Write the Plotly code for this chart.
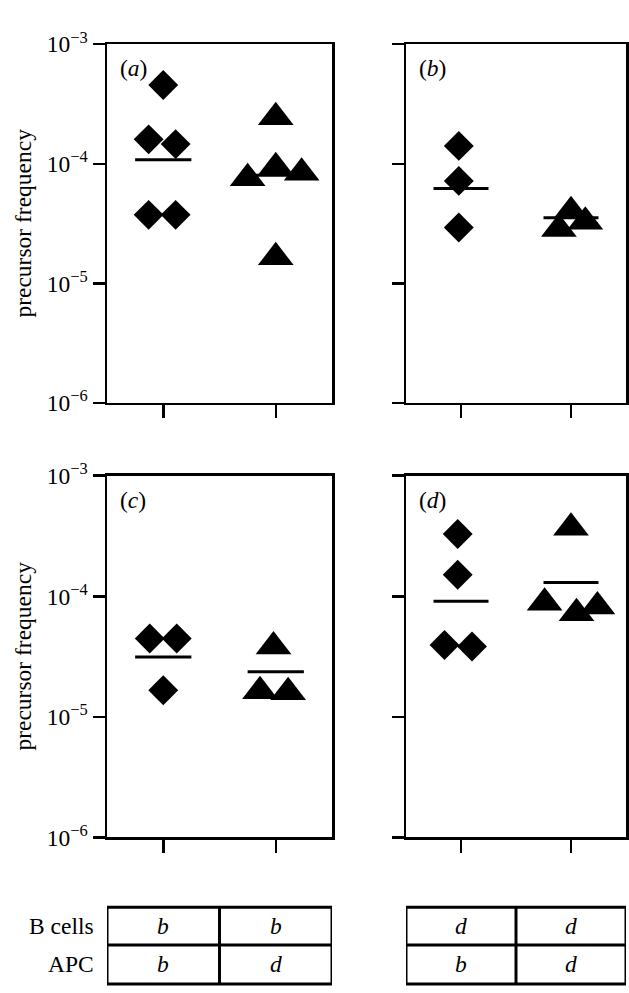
import plotly.graph_objects as go

# ---------------- data ----------------
panel_labels = ["a", "b", "c", "d"]
tick_values = [1e-6, 1e-5, 1e-4, 1e-3]
tick_labels = ["10<sup>−6</sup>", "10<sup>−5</sup>", "10<sup>−4</sup>", "10<sup>−3</sup>"]
y_title = "precursor frequency"

# diamond group (first column) and triangle group (second column) per panel
a_diamonds = [4.56e-4, 1.60e-4, 1.46e-4, 3.74e-5, 3.74e-5]
a_triangles = [2.45e-4, 9.37e-5, 7.57e-5, 8.41e-5, 1.65e-5]
a_means = [1.08e-4, 8.0e-5]

b_diamonds = [1.41e-4, 7.19e-5, 2.93e-5]
b_triangles = [2.85e-5, 4.01e-5, 3.28e-5]
b_means = [6.2e-5, 3.53e-5]

c_diamonds = [4.47e-5, 4.47e-5, 1.66e-5]
c_triangles = [3.84e-5, 1.63e-5, 1.60e-5]
c_means = [3.14e-5, 2.37e-5]

d_diamonds = [3.29e-4, 1.51e-4, 3.94e-5, 3.83e-5]
d_triangles = [3.70e-4, 8.83e-5, 7.24e-5, 8.23e-5]
d_means = [9.1e-5, 1.30e-4]

# horizontal jitter of the points around their column (category units)
a_diamond_jitter = [0.0, -0.13, 0.11, -0.13, 0.11]
a_triangle_jitter = [0.0, 0.0, -0.25, 0.23, 0.0]
b_diamond_jitter = [-0.02, -0.02, -0.02]
b_triangle_jitter = [-0.11, 0.0, 0.13]
c_diamond_jitter = [-0.12, 0.12, 0.0]
c_triangle_jitter = [-0.02, -0.14, 0.11]
d_diamond_jitter = [-0.03, -0.03, -0.15, 0.10]
d_triangle_jitter = [0.0, -0.24, 0.05, 0.24]

# table under the panels
table_row_labels = ["B cells", "APC"]
b_cells_left = ["b", "b"]
apc_left = ["b", "d"]
b_cells_right = ["d", "d"]
apc_right = ["b", "d"]

# ---------------- layout helpers ----------------
W, H = 629, 993
FONT = "Liberation Serif"
FS = 23.5


def px_x(x):
    return x / W


def px_y(y):
    return 1 - y / H


col_left = [107, 332]
col_right = [406, 626]
row_top = [28, 398]
row_bottom = [473, 846]

panel_boxes = [
    (col_left, row_top),
    (col_right, row_top),
    (col_left, row_bottom),
    (col_right, row_bottom),
]

panels = [
    (a_diamonds, a_diamond_jitter, a_triangles, a_triangle_jitter, a_means),
    (b_diamonds, b_diamond_jitter, b_triangles, b_triangle_jitter, b_means),
    (c_diamonds, c_diamond_jitter, c_triangles, c_triangle_jitter, c_means),
    (d_diamonds, d_diamond_jitter, d_triangles, d_triangle_jitter, d_means),
]

fig = go.Figure()
layout = dict(
    width=W,
    height=H,
    margin=dict(l=0, r=0, t=0, b=0),
    paper_bgcolor="white",
    plot_bgcolor="white",
    showlegend=False,
    hovermode=False,
    font=dict(family=FONT, size=FS, color="black"),
)

annotations = []
shapes = []

for i, ((dv, dj, tv, tj, means), (cx, cy)) in enumerate(zip(panels, panel_boxes)):
    n = i + 1
    xa = "x" if n == 1 else f"x{n}"
    ya = "y" if n == 1 else f"y{n}"
    xkey = "xaxis" if n == 1 else f"xaxis{n}"
    ykey = "yaxis" if n == 1 else f"yaxis{n}"

    fig.add_trace(go.Scatter(
        x=[1 + j for j in dj], y=dv, mode="markers", xaxis=xa, yaxis=ya,
        marker=dict(symbol="diamond", size=23, color="black", line=dict(width=0)),
        cliponaxis=False,
    ))
    fig.add_trace(go.Scatter(
        x=[2 + j for j in tj], y=tv, mode="markers", xaxis=xa, yaxis=ya,
        marker=dict(symbol="triangle-up", size=31, color="black", line=dict(width=0)),
        cliponaxis=False,
    ))
    for c, m in zip([1, 2], means):
        fig.add_trace(go.Scatter(
            x=[c - 0.25, c + 0.25], y=[m, m], mode="lines", xaxis=xa, yaxis=ya,
            line=dict(color="black", width=3),
        ))

    layout[xkey] = dict(
        domain=[px_x(cx[0]), px_x(cx[1])],
        range=[0.5, 2.5],
        anchor=ya,
        showgrid=False, zeroline=False,
        showline=True, linecolor="black", linewidth=2.5, mirror=True,
        ticks="outside", ticklen=13, tickwidth=2.5, tickcolor="black",
        tickvals=[1, 2], showticklabels=False,
    )
    layout[ykey] = dict(
        domain=[px_y(cy[1]), px_y(cy[0])],
        type="log",
        range=[-6, -3],
        anchor=xa,
        showgrid=False, zeroline=False,
        showline=True, linecolor="black", linewidth=2.5, mirror=True,
        ticks="outside", ticklen=12, tickwidth=2.5, tickcolor="black",
        tickvals=tick_values, ticktext=tick_labels,
        showticklabels=(n in (1, 3)),
        tickfont=dict(family=FONT, size=FS, color="black"),
    )

    # panel letter
    annotations.append(dict(
        text=f"(<i>{panel_labels[i]}</i>)", xref="paper", yref="paper",
        x=px_x(cx[0] + 11), y=px_y(cy[0] + 25), xanchor="left", yanchor="middle",
        showarrow=False, font=dict(family=FONT, size=FS, color="black"),
    ))

    if n in (1, 3):
        annotations.append(dict(
            text=y_title, xref="paper", yref="paper",
            x=px_x(23), y=px_y((cy[0] + cy[1]) / 2), textangle=-90,
            xanchor="center", yanchor="middle", showarrow=False,
            font=dict(family=FONT, size=FS, color="black"),
        ))

# ---------------- table ----------------
t_top, t_mid, t_bot = 918, 957, 997
for xref, top_vals, bot_vals in [("x3", b_cells_left, apc_left), ("x4", b_cells_right, apc_right)]:
    line = dict(color="black", width=3)
    shapes.append(dict(type="rect", xref=xref, yref="paper", x0=0.5, x1=2.5,
                       y0=px_y(t_bot), y1=px_y(t_top), line=line))
    shapes.append(dict(type="line", xref=xref, yref="paper", x0=0.5, x1=2.5,
                       y0=px_y(t_mid), y1=px_y(t_mid), line=line))
    shapes.append(dict(type="line", xref=xref, yref="paper", x0=1.5, x1=1.5,
                       y0=px_y(t_bot), y1=px_y(t_top), line=line))
    for k, (tv_, bv_) in enumerate(zip(top_vals, bot_vals)):
        annotations.append(dict(text=f"<i>{tv_}</i>", xref=xref, yref="paper", x=k + 1,
                                y=px_y((t_top + t_mid) / 2), showarrow=False,
                                xanchor="center", yanchor="middle",
                                font=dict(family=FONT, size=FS, color="black")))
        annotations.append(dict(text=f"<i>{bv_}</i>", xref=xref, yref="paper", x=k + 1,
                                y=px_y(t_mid + 20), showarrow=False,
                                xanchor="center", yanchor="middle",
                                font=dict(family=FONT, size=FS, color="black")))

for lab, yc in zip(table_row_labels, [(t_top + t_mid) / 2, t_mid + 20]):
    annotations.append(dict(text=lab, xref="paper", yref="paper", x=px_x(96), y=px_y(yc),
                            xanchor="right", yanchor="middle", showarrow=False,
                            font=dict(family=FONT, size=FS, color="black")))

layout["annotations"] = annotations
layout["shapes"] = shapes
fig.update_layout(**layout)
fig.write_html(
    "out.html",
    config={"displayModeBar": False, "staticPlot": True},
    post_script="document.body.style.margin='0';document.body.style.overflow='hidden';",
)
